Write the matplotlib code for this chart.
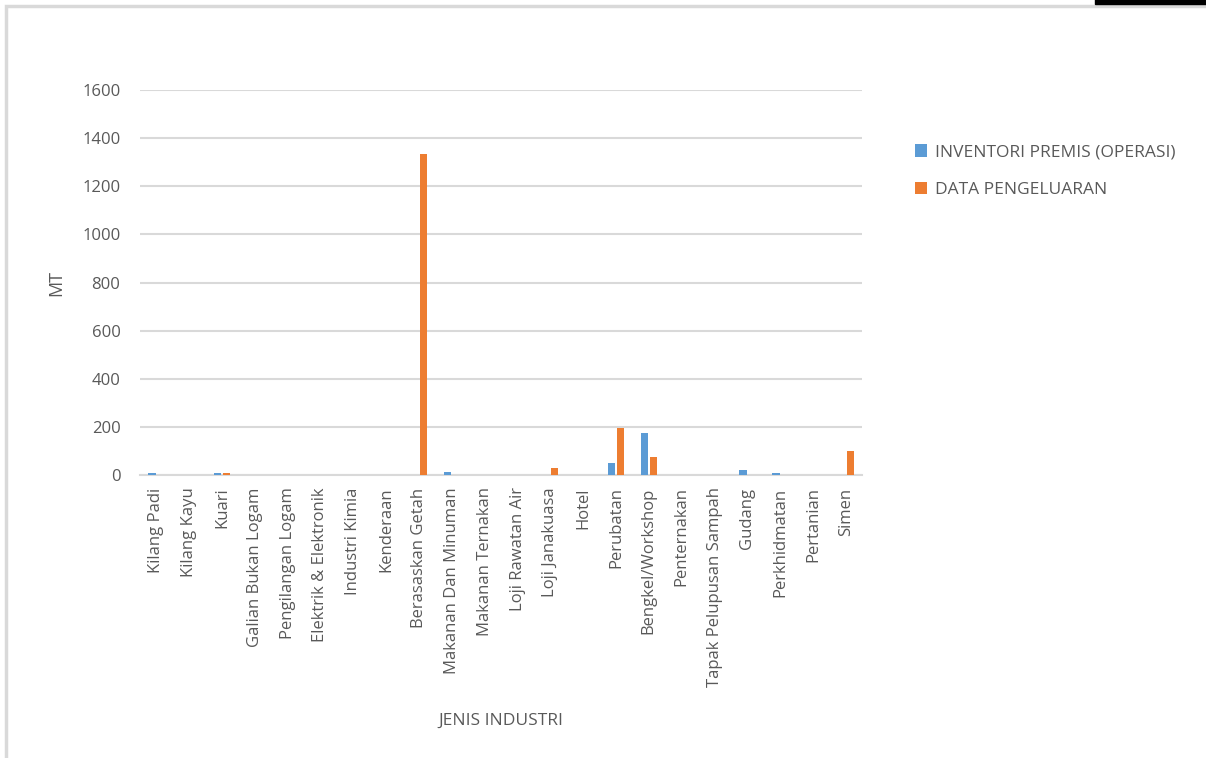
import numpy as np
import matplotlib.pyplot as plt
from matplotlib.patches import Rectangle

categories = ['Kilang Padi', 'Kilang Kayu', 'Kuari', 'Galian Bukan Logam', 'Pengilangan Logam',
              'Elektrik & Elektronik', 'Industri Kimia', 'Kenderaan', 'Berasaskan Getah',
              'Makanan Dan Minuman', 'Makanan Ternakan', 'Loji Rawatan Air', 'Loji Janakuasa',
              'Hotel', 'Perubatan', 'Bengkel/Workshop', 'Penternakan', 'Tapak Pelupusan Sampah',
              'Gudang', 'Perkhidmatan', 'Pertanian', 'Simen']
inventori = [8, 0, 8, 0, 0, 0, 0, 0, 0, 12, 0, 0, 0, 0, 50, 175, 0, 0, 20, 8, 0, 0]
pengeluaran = [0, 0, 8, 0, 0, 0, 0, 0, 1335, 0, 0, 0, 30, 0, 195, 75, 0, 0, 0, 0, 0, 100]

plt.rcParams['font.family'] = ['Open Sans', 'DejaVu Sans']
grey = '#595959'

fig = plt.figure(figsize=(12.06, 7.58), dpi=100)
ax = fig.add_axes([0.116, 0.3734, 0.599, 0.5076])

x = np.arange(len(categories))
w = 0.22
ax.bar(x - 0.13, inventori, w, color='#5B9BD5', label='INVENTORI PREMIS (OPERASI)', zorder=3)
ax.bar(x + 0.13, pengeluaran, w, color='#ED7D31', label='DATA PENGELUARAN', zorder=3)

ax.set_xlim(-0.5, len(categories) - 0.5)
ax.set_ylim(0, 1600)
ax.set_yticks(range(0, 1601, 200))
ax.set_xticks(x)
ax.set_xticklabels(categories, rotation=90)
ax.tick_params(length=0, labelsize=12, colors=grey)
ax.tick_params(axis='x', pad=9)
ax.tick_params(axis='y', pad=14)
ax.grid(axis='y', color='#d9d9d9', linewidth=1.5, zorder=0)
for s in ['top', 'right', 'left']:
    ax.spines[s].set_visible(False)
ax.spines['bottom'].set_color('#d9d9d9')
ax.spines['bottom'].set_linewidth(1.5)

ax.set_ylabel('MT', fontsize=13, color=grey, labelpad=12)
ax.set_xlabel('JENIS INDUSTRI', fontsize=12.5, color=grey, labelpad=18)

fig.legend(loc='upper left', bbox_to_anchor=(0.746, 0.83), frameon=False,
           fontsize=12.5, labelcolor=grey, handlelength=0.7, handleheight=0.7,
           labelspacing=1.25, handletextpad=0.45)

# chart frame
fig.patches.append(Rectangle((0.005, -0.02), 1.1, 1.012, transform=fig.transFigure,
                             fill=False, edgecolor='#d9d9d9', linewidth=2.5))
fig.patches.append(Rectangle((0.908, 0.995), 0.1, 0.01, transform=fig.transFigure,
                             color='black'))

fig.savefig('out.png', dpi=100)
